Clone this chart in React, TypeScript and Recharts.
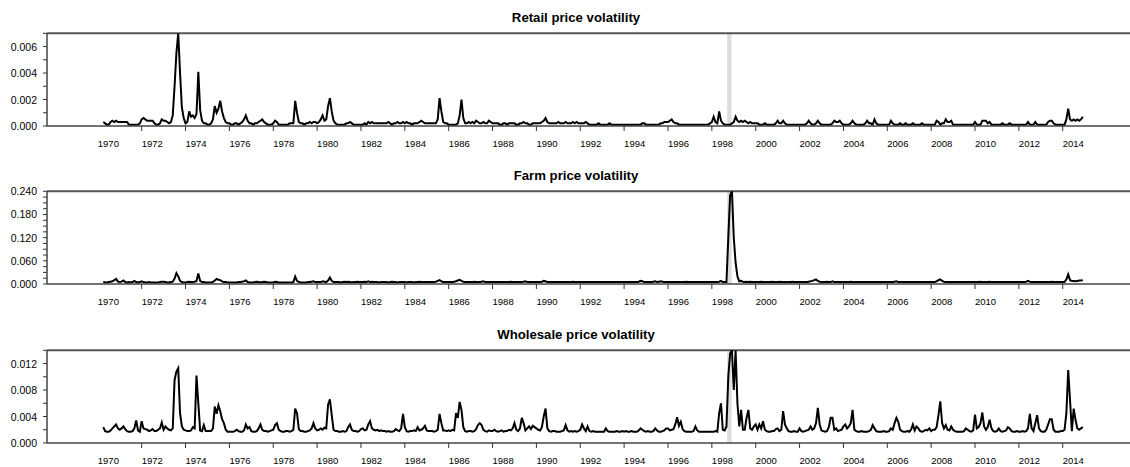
import React from 'react';
import { LineChart, Line, XAxis, YAxis, ReferenceLine, ReferenceArea } from 'recharts';

// Monthly observations, first year starts in April
const START_YEAR = 1970;
const START_MONTH = 4;

const YEAR_TICKS = [1970, 1972, 1974, 1976, 1978, 1980, 1982, 1984, 1986, 1988, 1990, 1992, 1994, 1996, 1998, 2000, 2002, 2004, 2006, 2008, 2010, 2012, 2014];

const RETAIL_TICKS = [0, 0.001, 0.002, 0.003, 0.004, 0.005, 0.006, 0.007];
const RETAIL_LABELS = [0, 0.002, 0.004, 0.006];
const FARM_TICKS = [0, 0.015, 0.03, 0.045, 0.06, 0.075, 0.09, 0.105, 0.12, 0.135, 0.15, 0.165, 0.18, 0.195, 0.21, 0.225, 0.24];
const FARM_LABELS = [0, 0.06, 0.12, 0.18, 0.24];
const WHOLESALE_TICKS = [0, 0.002, 0.004, 0.006, 0.008, 0.01, 0.012, 0.014];
const WHOLESALE_LABELS = [0, 0.004, 0.008, 0.012];

// Retail price volatility, units of 0.0001, one row per year
const retailE4: number[][] = [
  [3, 2, 1, 1, 3, 4, 3, 4, 3],
  [3, 3, 3, 3, 3, 1, 1, 1, 1, 1, 1, 2],
  [5, 6, 5, 4, 4, 4, 4, 2, 1, 1, 2, 5],
  [4, 4, 3, 2, 3, 8, 30, 55, 70, 40, 14, 6],
  [2, 3, 11, 7, 8, 6, 9, 41, 12, 4, 2, 2],
  [1, 1, 2, 5, 15, 10, 13, 19, 11, 6, 3, 2],
  [2, 1, 1, 2, 2, 1, 2, 3, 5, 8, 4, 2],
  [2, 1, 2, 2, 3, 4, 5, 3, 2, 1, 1, 1],
  [2, 4, 3, 1, 1, 1, 1, 1, 1, 2, 2, 2],
  [19, 10, 3, 2, 2, 1, 2, 2, 3, 2, 3, 3],
  [2, 3, 5, 8, 4, 5, 15, 21, 11, 4, 2, 1],
  [1, 1, 1, 1, 2, 2, 3, 2, 1, 1, 1, 1],
  [1, 1, 2, 1, 3, 2, 3, 2, 2, 2, 2, 2],
  [2, 2, 2, 3, 2, 1, 2, 2, 3, 2, 2, 3],
  [2, 3, 2, 2, 1, 2, 2, 2, 3, 4, 3, 2],
  [2, 2, 2, 2, 2, 2, 5, 21, 11, 3, 2, 2],
  [1, 1, 1, 1, 1, 2, 8, 20, 6, 2, 2, 3],
  [2, 3, 2, 4, 3, 2, 2, 3, 2, 2, 4, 3],
  [2, 2, 2, 2, 1, 1, 2, 2, 1, 2, 2, 2],
  [2, 1, 1, 2, 2, 3, 2, 2, 1, 1, 2, 2],
  [2, 2, 2, 3, 4, 6, 3, 2, 2, 2, 2, 2],
  [3, 2, 2, 2, 3, 2, 2, 2, 3, 2, 3, 2],
  [2, 2, 2, 3, 2, 1, 1, 1, 1, 1, 2, 1],
  [1, 1, 1, 1, 2, 1, 1, 1, 1, 1, 1, 1],
  [1, 1, 1, 1, 1, 1, 1, 1, 1, 1, 2, 2],
  [1, 1, 1, 1, 1, 1, 1, 1, 2, 2, 3, 3],
  [3, 4, 5, 3, 2, 2, 1, 1, 1, 1, 1, 1],
  [1, 1, 1, 1, 1, 1, 1, 1, 1, 1, 1, 2],
  [3, 7, 3, 2, 11, 4, 2, 1, 1, 1, 1, 2],
  [3, 7, 4, 3, 4, 3, 4, 3, 2, 3, 2, 2],
  [2, 2, 1, 1, 1, 2, 1, 1, 1, 1, 1, 2],
  [4, 2, 2, 4, 2, 1, 1, 1, 1, 1, 1, 1],
  [1, 1, 1, 1, 2, 4, 2, 1, 1, 2, 4, 2],
  [1, 1, 1, 1, 1, 1, 2, 4, 3, 3, 4, 2],
  [1, 1, 1, 1, 2, 4, 2, 1, 1, 1, 1, 1],
  [2, 4, 2, 2, 1, 5, 2, 1, 1, 1, 1, 1],
  [1, 1, 4, 2, 1, 1, 1, 2, 1, 1, 2, 1],
  [1, 1, 2, 1, 1, 1, 1, 2, 1, 1, 1, 1],
  [1, 1, 1, 4, 3, 1, 2, 2, 5, 3, 3, 4],
  [1, 1, 1, 1, 1, 1, 1, 1, 1, 1, 1, 1],
  [3, 1, 1, 1, 4, 4, 4, 2, 3, 1, 1, 1],
  [1, 1, 1, 2, 1, 1, 1, 2, 1, 1, 1, 1],
  [1, 1, 1, 1, 1, 3, 1, 1, 1, 3, 1, 1],
  [1, 1, 1, 1, 3, 4, 4, 2, 1, 1, 1, 1],
  [1, 1, 5, 13, 5, 4, 5, 4, 5, 4, 5, 7],
];

// Farm price volatility, units of 0.001
const farmE3: number[][] = [
  [6, 4, 4, 5, 6, 7, 10, 13, 6],
  [5, 6, 9, 5, 4, 5, 4, 5, 8, 5, 4, 5],
  [7, 5, 4, 4, 5, 4, 4, 4, 4, 4, 5, 6],
  [6, 5, 4, 4, 5, 6, 14, 28, 20, 8, 5, 4],
  [4, 5, 6, 5, 5, 6, 8, 27, 8, 5, 5, 4],
  [4, 4, 4, 5, 9, 13, 11, 10, 7, 5, 5, 4],
  [4, 4, 4, 4, 4, 5, 5, 6, 7, 9, 5, 4],
  [4, 4, 5, 6, 5, 4, 5, 6, 5, 4, 4, 4],
  [4, 6, 5, 4, 4, 4, 4, 4, 4, 4, 4, 5],
  [19, 8, 5, 4, 4, 4, 4, 5, 5, 6, 7, 5],
  [5, 5, 5, 7, 6, 5, 9, 17, 8, 5, 5, 5],
  [5, 4, 5, 6, 5, 6, 5, 4, 5, 5, 6, 5],
  [5, 5, 6, 5, 7, 5, 6, 5, 5, 5, 4, 5],
  [5, 5, 5, 4, 5, 6, 5, 5, 4, 5, 5, 5],
  [5, 4, 5, 5, 5, 4, 5, 5, 6, 5, 5, 5],
  [5, 5, 5, 5, 5, 6, 8, 10, 7, 5, 5, 5],
  [5, 5, 5, 6, 7, 9, 11, 8, 6, 5, 5, 5],
  [5, 5, 6, 5, 5, 5, 6, 7, 5, 5, 5, 5],
  [5, 5, 5, 5, 5, 5, 5, 5, 5, 5, 6, 5],
  [5, 5, 5, 5, 5, 6, 7, 5, 5, 5, 5, 5],
  [5, 5, 5, 6, 8, 7, 5, 5, 5, 5, 5, 5],
  [5, 5, 5, 5, 5, 5, 5, 5, 6, 5, 5, 5],
  [5, 5, 5, 5, 5, 5, 5, 5, 5, 5, 5, 5],
  [5, 5, 5, 5, 5, 5, 5, 5, 5, 5, 5, 5],
  [5, 5, 5, 5, 5, 5, 5, 5, 6, 8, 7, 5],
  [5, 5, 5, 5, 6, 7, 5, 6, 7, 6, 5, 5],
  [5, 5, 5, 5, 5, 5, 5, 5, 5, 5, 6, 5],
  [5, 5, 5, 5, 5, 5, 5, 5, 5, 5, 5, 5],
  [5, 5, 5, 5, 6, 8, 5, 5, 5, 120, 230, 240],
  [120, 55, 20, 7, 8, 6, 5, 6, 5, 6, 5, 5],
  [5, 5, 5, 6, 5, 5, 5, 5, 5, 6, 5, 5],
  [5, 6, 5, 5, 5, 5, 5, 5, 6, 5, 5, 5],
  [5, 5, 5, 5, 5, 6, 7, 8, 10, 12, 8, 6],
  [5, 5, 5, 6, 5, 5, 7, 5, 5, 5, 5, 5],
  [5, 5, 5, 5, 6, 5, 5, 5, 5, 5, 5, 5],
  [5, 5, 5, 5, 5, 5, 5, 5, 5, 5, 5, 5],
  [5, 5, 5, 5, 6, 7, 5, 5, 5, 5, 5, 5],
  [5, 5, 5, 5, 5, 5, 5, 5, 5, 5, 5, 5],
  [5, 5, 5, 7, 10, 12, 8, 6, 5, 5, 5, 5],
  [5, 5, 5, 5, 5, 5, 5, 5, 5, 5, 5, 5],
  [5, 5, 5, 6, 5, 5, 5, 5, 6, 5, 5, 5],
  [5, 5, 5, 5, 5, 5, 5, 5, 5, 5, 5, 5],
  [5, 5, 5, 5, 6, 8, 6, 5, 5, 5, 5, 5],
  [5, 5, 5, 5, 5, 5, 6, 5, 5, 5, 5, 5],
  [5, 5, 12, 25, 10, 8, 8, 7, 8, 9, 9, 10],
];

// Wholesale price volatility, units of 0.0001
const wholesaleE4: number[][] = [
  [24, 18, 17, 17, 19, 22, 25, 28, 22],
  [20, 22, 25, 21, 18, 17, 17, 18, 22, 34, 19, 17],
  [33, 22, 21, 20, 18, 19, 21, 18, 18, 20, 22, 31],
  [20, 25, 22, 20, 19, 22, 95, 108, 113, 45, 25, 20],
  [19, 18, 18, 19, 24, 22, 102, 60, 19, 18, 27, 18],
  [18, 18, 18, 22, 55, 44, 57, 48, 36, 30, 20, 17],
  [17, 17, 17, 18, 20, 18, 17, 17, 19, 28, 22, 24],
  [18, 17, 17, 18, 22, 28, 20, 18, 18, 17, 18, 19],
  [20, 27, 30, 20, 18, 17, 17, 18, 18, 17, 18, 20],
  [52, 45, 21, 18, 18, 17, 17, 18, 19, 22, 30, 22],
  [19, 20, 22, 20, 23, 22, 58, 66, 42, 20, 18, 18],
  [17, 17, 18, 17, 18, 24, 28, 20, 18, 18, 17, 18],
  [21, 22, 19, 20, 28, 33, 22, 20, 19, 20, 18, 19],
  [18, 18, 17, 18, 17, 17, 18, 21, 19, 18, 22, 44],
  [24, 18, 17, 18, 18, 19, 18, 24, 19, 20, 22, 26],
  [19, 18, 18, 18, 17, 18, 20, 44, 30, 19, 19, 18],
  [19, 18, 20, 19, 45, 38, 62, 50, 24, 18, 17, 18],
  [18, 17, 18, 21, 27, 30, 27, 20, 18, 17, 19, 18],
  [18, 20, 18, 17, 18, 19, 17, 18, 18, 20, 19, 22],
  [30, 20, 18, 22, 38, 30, 19, 22, 25, 21, 26, 24],
  [22, 20, 19, 24, 40, 52, 22, 18, 17, 18, 18, 17],
  [17, 17, 18, 19, 27, 19, 17, 18, 17, 18, 17, 18],
  [20, 28, 22, 18, 25, 18, 17, 18, 17, 17, 17, 17],
  [17, 17, 22, 18, 17, 17, 17, 17, 18, 17, 17, 18],
  [17, 18, 17, 17, 18, 17, 17, 17, 19, 22, 20, 18],
  [17, 18, 17, 17, 18, 22, 19, 17, 17, 18, 19, 22],
  [22, 19, 20, 21, 28, 39, 26, 32, 21, 18, 17, 17],
  [17, 17, 18, 25, 19, 17, 17, 17, 17, 17, 17, 17],
  [17, 17, 18, 17, 45, 60, 20, 19, 25, 100, 135, 140],
  [80, 140, 60, 25, 50, 20, 20, 38, 50, 22, 20, 25],
  [28, 20, 28, 22, 33, 20, 18, 17, 17, 18, 18, 21],
  [22, 18, 20, 48, 28, 22, 18, 17, 17, 18, 17, 17],
  [22, 18, 17, 18, 19, 20, 25, 20, 22, 30, 53, 28],
  [19, 18, 17, 18, 24, 38, 38, 20, 22, 18, 19, 20],
  [25, 28, 22, 25, 30, 50, 20, 18, 17, 17, 18, 17],
  [17, 17, 18, 20, 27, 22, 18, 17, 17, 17, 18, 17],
  [17, 18, 22, 20, 30, 38, 32, 20, 18, 17, 17, 18],
  [17, 20, 28, 19, 25, 22, 18, 17, 18, 20, 19, 22],
  [18, 20, 20, 24, 42, 63, 30, 22, 27, 20, 19, 25],
  [20, 18, 17, 17, 17, 17, 18, 22, 20, 18, 17, 19],
  [43, 22, 24, 30, 46, 25, 20, 24, 35, 22, 18, 17],
  [18, 22, 18, 17, 18, 19, 24, 22, 18, 17, 17, 18],
  [17, 17, 18, 17, 18, 22, 44, 22, 18, 30, 42, 22],
  [18, 17, 17, 20, 28, 36, 36, 20, 17, 17, 17, 18],
  [18, 20, 45, 110, 65, 18, 52, 35, 22, 20, 22, 24],
];

// Shaded period (late 1998)
const SHADE_START = 1998.7;
const SHADE_END = 1998.9;

type Row = { t: number; retail: number; farm: number; wholesale: number };
const rows: Row[] = [];
retailE4.forEach((yearVals, i) => {
  yearVals.forEach((v, j) => {
    const monthIndex = (i === 0 ? START_MONTH - 1 : 0) + j;
    rows.push({
      t: START_YEAR + i + monthIndex / 12,
      retail: v * 1e-4,
      farm: farmE3[i][j] * 1e-3,
      wholesale: wholesaleE4[i][j] * 1e-4,
    });
  });
});

const FONT = "'Liberation Sans', Arial, Helvetica, sans-serif";
const X_DOMAIN: [number, number] = [1967.683, 2017.068];

const XTick = (props: any) => {
  const { x, y, payload } = props;
  const v = payload.value;
  return (
    <g>
      {v !== 1970 && <line x1={x} x2={x} y1={y} y2={y + 5} stroke="#333" strokeWidth={1} />}
      <text x={x} y={y + 20.5} textAnchor="start" fontSize={9.5} fontFamily={FONT} fill="#000">
        {v}
      </text>
    </g>
  );
};

const makeYTick = (labels: number[]) => (props: any) => {
  const { x, y, payload } = props;
  const v = payload.value;
  const show = labels.some((l) => Math.abs(l - v) < 1e-9);
  return (
    <g>
      <line x1={x - 4} x2={x} y1={y} y2={y} stroke="#333" strokeWidth={1} />
      {show && (
        <text x={x - 10} y={y} textAnchor="end" dominantBaseline="central" fontSize={10.5} fontFamily={FONT} fill="#000">
          {v.toFixed(3)}
        </text>
      )}
    </g>
  );
};

type PanelProps = {
  title: string;
  dataKey: keyof Row;
  max: number;
  ticks: number[];
  labels: number[];
  top: number;
};

const Panel = ({ title, dataKey, max, ticks, labels, top }: PanelProps) => (
  <div style={{ position: 'absolute', left: 0, top, width: 1130, height: 156 }}>
    <svg width={1130} height={30} style={{ position: 'absolute', left: 0, top: 0 }}>
      <text x={576} y={21.7} textAnchor="middle" fontSize={13.2} fontWeight="bold" fontFamily={FONT} fill="#000">
        {title}
      </text>
    </svg>
    <div style={{ position: 'absolute', left: 0, top: 0 }}>
      <LineChart width={1130} height={156} data={rows} margin={{ top: 33.3, right: 0, bottom: 0, left: 0 }}>
        <XAxis
          dataKey="t"
          type="number"
          domain={X_DOMAIN}
          allowDataOverflow
          ticks={YEAR_TICKS}
          interval={0}
          tickSize={0}
          tickMargin={0}
          tick={<XTick />}
          height={30}
          axisLine={{ stroke: '#444', strokeWidth: 1.5 }}
        />
        <YAxis
          type="number"
          domain={[0, max]}
          allowDataOverflow
          ticks={ticks}
          interval={0}
          tickSize={0}
          tickMargin={0}
          tick={makeYTick(labels)}
          width={47}
          axisLine={{ stroke: '#444', strokeWidth: 1.5 }}
        />
        <ReferenceArea x1={SHADE_START} x2={SHADE_END} fill="#dcdcdc" fillOpacity={1} stroke="none" />
        <ReferenceLine y={max} stroke="#555" strokeWidth={2} />
        <Line
          type="linear"
          dataKey={dataKey}
          stroke="#000"
          strokeWidth={2}
          dot={false}
          isAnimationActive={false}
        />
      </LineChart>
    </div>
  </div>
);

export default function App() {
  return (
    <div style={{ position: 'absolute', left: 0, top: 0, width: 1130, height: 467, background: '#fff', overflow: 'hidden' }}>
      <Panel title="Retail price volatility" dataKey="retail" max={0.007} ticks={RETAIL_TICKS} labels={RETAIL_LABELS} top={0} />
      <Panel title="Farm price volatility" dataKey="farm" max={0.24} ticks={FARM_TICKS} labels={FARM_LABELS} top={158.4} />
      <Panel title="Wholesale price volatility" dataKey="wholesale" max={0.014} ticks={WHOLESALE_TICKS} labels={WHOLESALE_LABELS} top={317.4} />
    </div>
  );
}
